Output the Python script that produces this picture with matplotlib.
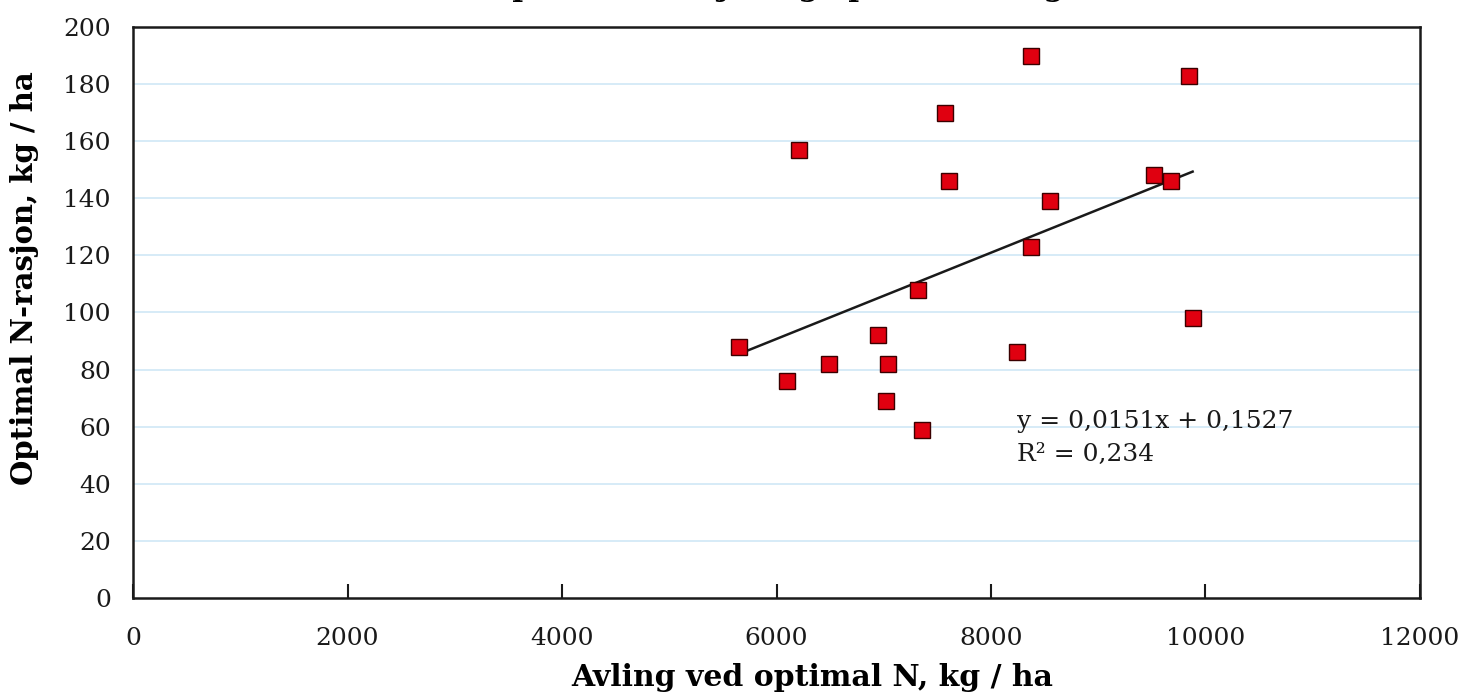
import matplotlib
matplotlib.use("Agg")
import matplotlib.pyplot as plt
import numpy as np

# Avling ved optimal N (kg/ha) og optimal N-rasjon (kg/ha)
avling = [5650, 6100, 6210, 6490, 6950, 7020, 7040, 7320, 7360, 7570,
          7610, 8240, 8370, 8370, 8550, 9520, 9680, 9850, 9880]
n_rasjon = [88, 76, 157, 82, 92, 69, 82, 108, 59, 170,
            146, 86, 190, 123, 139, 148, 146, 183, 98]

# trendline from the chart's equation
slope = 0.0151
intercept = 0.1527
r2_text = "0,234"

x_ticks = [0, 2000, 4000, 6000, 8000, 10000, 12000]
y_ticks = list(range(0, 201, 20))

plt.rcParams["font.family"] = "DejaVu Serif"

fig = plt.figure(figsize=(14.75, 6.97), dpi=100)
ax = fig.add_axes([0.0902, 0.142, 0.8725, 0.8193])

# grid lines
for y in y_ticks[1:-1]:
    ax.axhline(y, color="#cfe8f6", linewidth=1.2, zorder=0)

# trendline
x_line = np.array([min(avling), max(avling)])
ax.plot(x_line, slope * x_line + intercept, color="#1a1a1a",
        linewidth=1.8, zorder=2)

ax.plot(avling, n_rasjon, "s", markersize=11, markerfacecolor="#e00010",
        markeredgecolor="#3a0000", markeredgewidth=1.0, zorder=3)

ax.text(8240, 66, "y = 0,0151x + 0,1527\nR² = " + r2_text,
        fontsize=18, color="#1a1a1a", va="top", ha="left",
        linespacing=1.6)

ax.set_xlim(0, 12000)
ax.set_ylim(0, 200)
ax.set_xticks(x_ticks)
ax.set_xticklabels([str(v) for v in x_ticks])
ax.set_yticks(y_ticks)
ax.set_yticklabels([str(v) for v in y_ticks])
ax.tick_params(axis="x", direction="in", length=10, width=1.5,
               pad=21, labelsize=18, colors="#1a1a1a")
ax.tick_params(axis="y", length=0, pad=16, labelsize=18, colors="#1a1a1a")

for side in ["left", "right", "top", "bottom"]:
    ax.spines[side].set_linewidth(1.8)
    ax.spines[side].set_color("#1a1a1a")

ax.set_xlabel("Avling ved optimal N, kg / ha", fontsize=21.5,
              fontweight="bold", va="center")
ax.xaxis.set_label_coords(0.528, -0.14)
ax.set_ylabel("Optimal N-rasjon, kg / ha", fontsize=21,
              fontweight="bold", va="center")
ax.yaxis.set_label_coords(-0.084, 0.56)

# title sits above the visible area, only descenders show
fig.text(0.526, 1.006, "Optimal N-rasjon og optimal avling", fontsize=21,
         fontweight="bold", ha="center", va="baseline")

fig.savefig("out.png", dpi=100)
